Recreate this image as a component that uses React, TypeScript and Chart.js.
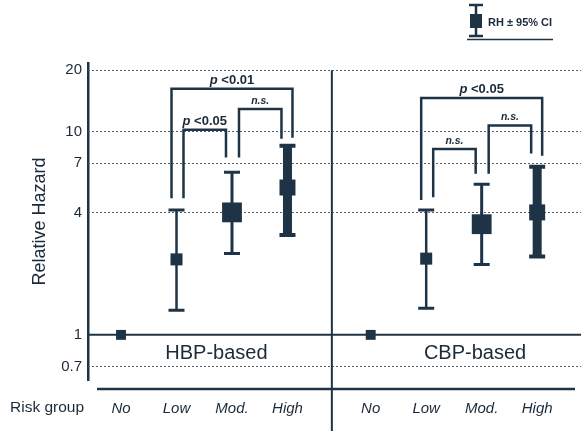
import React, { useEffect, useRef } from 'react';
import { Chart, registerables } from 'chart.js';

Chart.register(...registerables);

// ---------- data ----------
const riskGroups = ['No', 'Low', 'Mod.', 'High'];
const panelNames = ['HBP-based', 'CBP-based'];

const hbpRH = [1.0, 2.35, 4.0, 5.3];
const hbpLower = [null, 1.32, 2.51, 3.1];
const hbpUpper = [null, 4.11, 6.3, 8.5];

const cbpRH = [1.0, 2.37, 3.5, 4.0];
const cbpLower = [null, 1.35, 2.22, 2.43];
const cbpUpper = [null, 4.11, 5.5, 6.7];

const yTickValues = [0.7, 1, 4, 7, 10, 20];

const hbpBrackets = [
  { from: 1, to: 3, level: 16.2, fromEnd: 4.7, toEnd: 9.3, label: 'p <0.01' },
  { from: 1, to: 2, level: 10.2, fromEnd: 4.7, toEnd: 7.45, label: 'p <0.05' },
  { from: 2, to: 3, level: 12.9, fromEnd: 7.45, toEnd: 9.2, label: 'n.s.' },
];
const cbpBrackets = [
  { from: 1, to: 3, level: 14.6, fromEnd: 4.6, toEnd: 7.6, label: 'p <0.05' },
  { from: 1, to: 2, level: 8.2, fromEnd: 4.75, toEnd: 6.2, label: 'n.s.' },
  { from: 2, to: 3, level: 10.7, fromEnd: 6.2, toEnd: 7.8, label: 'n.s.' },
];

// ---------- layout / style constants ----------
const PANEL_SHIFT = 4.5;
const DIVIDER_AT = 3.8;
const PANEL_LABEL_AT = [1.72, 1.88];
const PANEL_LABEL_VALUE = 0.81;
const INK = '#1e3446';
const TEXT = '#1b2a38';
const FONT = "'Liberation Sans', Arial, sans-serif";
const pointRadii = [7, 8.5, 14, 11.3];
const barWidths = [0, 2.5, 3, 9];
const capWidths = [0, 3, 3, 4];

const panels = [
  { name: panelNames[0], rh: hbpRH, lower: hbpLower, upper: hbpUpper, brackets: hbpBrackets },
  { name: panelNames[1], rh: cbpRH, lower: cbpLower, upper: cbpUpper, brackets: cbpBrackets },
];

const xPos = (pi: number, i: number) => pi * PANEL_SHIFT + i;

const customPlugin = {
  id: 'customDraw',
  beforeDatasetsDraw(chart: any) {
    const { ctx, chartArea, scales } = chart;
    const xs = scales.x;
    const ys = scales.y;
    ctx.save();
    // dotted gridlines
    ctx.strokeStyle = '#4e5f70';
    ctx.lineWidth = 1;
    ctx.setLineDash([2, 2]);
    yTickValues.forEach((v) => {
      if (v === 1) return;
      const y = Math.round(ys.getPixelForValue(v)) + 0.5;
      ctx.beginPath();
      ctx.moveTo(chartArea.left, y);
      ctx.lineTo(chartArea.right, y);
      ctx.stroke();
    });
    ctx.setLineDash([]);
    // solid reference line at RH = 1
    const y1 = ys.getPixelForValue(1);
    ctx.strokeStyle = INK;
    ctx.lineWidth = 2;
    ctx.beginPath();
    ctx.moveTo(chartArea.left, y1);
    ctx.lineTo(chartArea.right, y1);
    ctx.stroke();
    // divider
    const xd = xs.getPixelForValue(DIVIDER_AT);
    ctx.lineWidth = 2;
    ctx.beginPath();
    ctx.moveTo(xd, ys.getPixelForValue(20));
    ctx.lineTo(xd, chart.height);
    ctx.stroke();
    // error bars
    panels.forEach((p, pi) => {
      p.rh.forEach((_, i) => {
        const lo = p.lower[i];
        const hi = p.upper[i];
        if (lo == null || hi == null) return;
        const x = xs.getPixelForValue(xPos(pi, i));
        const yl = ys.getPixelForValue(lo);
        const yh = ys.getPixelForValue(hi);
        ctx.strokeStyle = INK;
        ctx.lineWidth = barWidths[i];
        ctx.beginPath();
        ctx.moveTo(x, yl);
        ctx.lineTo(x, yh);
        ctx.stroke();
        ctx.lineWidth = capWidths[i];
        ctx.beginPath();
        ctx.moveTo(x - 8, yl);
        ctx.lineTo(x + 8, yl);
        ctx.moveTo(x - 8, yh);
        ctx.lineTo(x + 8, yh);
        ctx.stroke();
      });
    });
    ctx.restore();
  },
  afterDraw(chart: any) {
    const { ctx, chartArea, scales } = chart;
    const xs = scales.x;
    const ys = scales.y;
    ctx.save();
    ctx.strokeStyle = INK;
    ctx.fillStyle = TEXT;
    // brackets
    panels.forEach((p, pi) => {
      p.brackets.forEach((b) => {
        const outward = b.to - b.from > 1;
        const x1 = xs.getPixelForValue(xPos(pi, b.from)) + (outward ? -5 : 7);
        const x2 = xs.getPixelForValue(xPos(pi, b.to)) + (outward ? 5 : -6);
        const yl = ys.getPixelForValue(b.level);
        const ya = ys.getPixelForValue(b.fromEnd);
        const yb = ys.getPixelForValue(b.toEnd);
        ctx.lineWidth = 2.5;
        ctx.lineJoin = 'miter';
        ctx.beginPath();
        ctx.moveTo(x1, ya);
        ctx.lineTo(x1, yl);
        ctx.lineTo(x2, yl);
        ctx.lineTo(x2, yb);
        ctx.stroke();
        const cx = (x1 + x2) / 2;
        const by = yl - 5;
        ctx.textBaseline = 'alphabetic';
        if (b.label.startsWith('p ')) {
          const f1 = `italic bold 13px ${FONT}`;
          const f2 = `bold 13px ${FONT}`;
          const rest = b.label.slice(1);
          ctx.font = f1;
          const w1 = ctx.measureText('p').width;
          ctx.font = f2;
          const w2 = ctx.measureText(rest).width;
          const sx = cx - (w1 + w2) / 2;
          ctx.textAlign = 'left';
          ctx.font = f1;
          ctx.fillText('p', sx, by);
          ctx.font = f2;
          ctx.fillText(rest, sx + w1, by);
        } else {
          ctx.font = `italic bold 10.5px ${FONT}`;
          ctx.textAlign = 'center';
          ctx.fillText(b.label, cx, by);
        }
      });
      // panel label
      ctx.font = `20px ${FONT}`;
      ctx.textAlign = 'center';
      ctx.textBaseline = 'middle';
      ctx.fillText(p.name, xs.getPixelForValue(xPos(pi, PANEL_LABEL_AT[pi])), ys.getPixelForValue(PANEL_LABEL_VALUE));
    });
    // x axis line
    ctx.lineWidth = 2.5;
    ctx.beginPath();
    ctx.moveTo(chartArea.left + 9, chartArea.bottom + 9);
    ctx.lineTo(chartArea.right - 6, chartArea.bottom + 9);
    ctx.stroke();
    // Risk group label
    ctx.font = `15.5px ${FONT}`;
    ctx.textAlign = 'left';
    ctx.textBaseline = 'middle';
    ctx.fillText('Risk group', 10, chartArea.bottom + 28);
    // legend
    const lx = 476;
    ctx.lineWidth = 2.5;
    ctx.beginPath();
    ctx.moveTo(lx, 5);
    ctx.lineTo(lx, 37);
    ctx.moveTo(lx - 7, 5);
    ctx.lineTo(lx + 7, 5);
    ctx.moveTo(lx - 7, 36);
    ctx.lineTo(lx + 7, 36);
    ctx.stroke();
    ctx.fillStyle = INK;
    ctx.fillRect(lx - 6, 14, 12, 14);
    ctx.lineWidth = 1.5;
    ctx.beginPath();
    ctx.moveTo(467, 39.5);
    ctx.lineTo(553, 39.5);
    ctx.stroke();
    ctx.fillStyle = TEXT;
    ctx.font = `bold 11px ${FONT}`;
    ctx.textAlign = 'left';
    ctx.textBaseline = 'middle';
    ctx.fillText('RH \u00b1 95% CI', 488, 23);
    ctx.restore();
  },
};

export default function App() {
  const canvasRef = useRef<HTMLCanvasElement | null>(null);

  useEffect(() => {
    if (!canvasRef.current) return;
    const datasets = panels.map((p, pi) => ({
      label: p.name,
      data: p.rh.map((v, i) => ({ x: xPos(pi, i), y: v })),
      pointStyle: 'rect',
      pointRadius: pointRadii,
      pointHoverRadius: pointRadii,
      backgroundColor: INK,
      borderColor: INK,
      borderWidth: 0,
      showLine: false,
    }));
    const tickPositions = panels.flatMap((_, pi) => riskGroups.map((__, i) => xPos(pi, i)));
    const chart = new Chart(canvasRef.current, {
      type: 'scatter',
      data: { datasets },
      plugins: [customPlugin],
      options: {
        animation: false,
        responsive: true,
        maintainAspectRatio: false,
        layout: { autoPadding: false, padding: { top: 63, left: 0, right: 0, bottom: 0 } },
        plugins: { legend: { display: false }, tooltip: { enabled: false } },
        scales: {
          x: {
            type: 'linear',
            min: -0.595,
            max: 8.29,
            afterBuildTicks: (scale: any) => {
              scale.ticks = tickPositions.map((v) => ({ value: v }));
            },
            afterFit: (scale: any) => {
              scale.height = 51;
              scale.paddingLeft = 0;
              scale.paddingRight = 0;
            },
            grid: { display: false, drawTicks: false },
            border: { display: false },
            ticks: {
              autoSkip: false,
              maxRotation: 0,
              padding: 20,
              color: TEXT,
              font: { family: FONT, size: 15, style: 'italic' },
              callback: (_v: any, index: number) => riskGroups[index % riskGroups.length],
            },
          },
          y: {
            type: 'logarithmic',
            min: 0.617,
            max: 21.7,
            afterBuildTicks: (scale: any) => {
              scale.ticks = yTickValues.map((v) => ({ value: v }));
            },
            afterFit: (scale: any) => {
              scale.width = 88;
              scale.paddingTop = 0;
              scale.paddingBottom = 0;
            },
            grid: { display: false, drawTicks: false },
            border: { display: true, color: INK, width: 2.5 },
            title: {
              display: true,
              text: 'Relative Hazard',
              color: TEXT,
              font: { family: FONT, size: 18 },
              padding: { top: 29, bottom: 0 },
            },
            ticks: {
              padding: 6,
              color: TEXT,
              font: { family: FONT, size: 15 },
              callback: (v: any) => String(v),
            },
          },
        },
      },
    });
    return () => chart.destroy();
  }, []);

  return (
    <div style={{ position: 'fixed', left: 0, top: 0, width: 581, height: 431, background: '#ffffff' }}>
      <canvas ref={canvasRef} />
    </div>
  );
}
